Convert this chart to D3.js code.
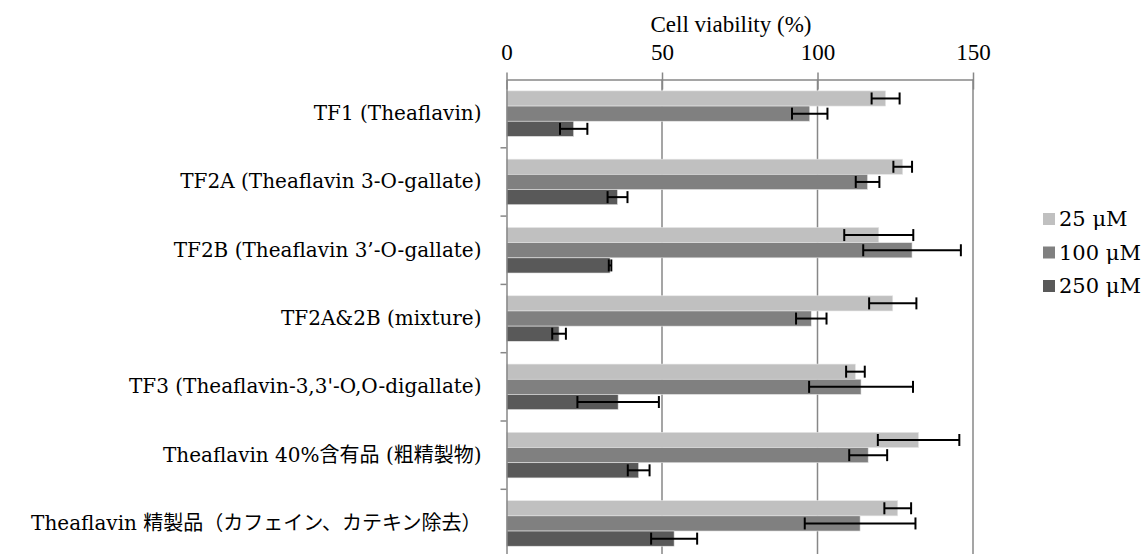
<!DOCTYPE html>
<html>
<head>
<meta charset="utf-8">
<script src="https://cdn.jsdelivr.net/npm/d3@7"></script>
<style>
  html, body { margin: 0; padding: 0; background: #fff; }
  svg { display: block; }
</style>
</head>
<body>
<svg id="chart" width="1146" height="554"></svg>
<script>
// ---- data ----
const categories = [
  "TF1 (Theaflavin)",
  "TF2A (Theaflavin 3-O-gallate)",
  "TF2B (Theaflavin 3’-O-gallate)",
  "TF2A&2B (mixture)",
  "TF3 (Theaflavin-3,3'-O,O-digallate)",
  "Theaflavin 40%含有品 (粗精製物)",
  "Theaflavin 精製品（カフェイン、カテキン除去）"
];
const seriesNames = ["25 μM", "100 μM", "250 μM"];
const values25  = [121.9, 127.4, 119.7, 124.2, 112.2, 132.5, 125.8];
const values100 = [97.5, 116.1, 130.4, 98.0, 114.0, 116.3, 113.7];
const values250 = [21.6, 35.7, 33.3, 16.9, 35.9, 42.5, 53.9];
const errors25  = [4.5, 3.0, 11.1, 7.6, 3.0, 13.1, 4.3];
const errors100 = [5.7, 3.8, 15.7, 4.9, 16.7, 6.1, 17.8];
const errors250 = [4.4, 3.2, 0.4, 2.2, 13.1, 3.5, 7.4];
const xTicks = [0, 50, 100, 150];
const colors = ["#c0c0c0", "#808080", "#595959"];
const axisTitle = "Cell viability (%)";

const seriesValues = [values25, values100, values250];
const seriesErrors = [errors25, errors100, errors250];

// ---- layout ----
const svg = d3.select("#chart");
const pLeft = 506.5, pRight = 973, pTop = 79.5, pBottom = 557.6;

const x = d3.scaleLinear().domain([0, 150]).range([pLeft, pRight]);
const y = d3.scaleBand().domain(categories).range([pTop, pBottom]).paddingInner(0).paddingOuter(0);
const ySub = d3.scaleBand().domain(d3.range(seriesNames.length)).range([0, y.bandwidth()]).paddingInner(0).paddingOuter(0.75);

// gridlines
svg.append("g").selectAll("line")
  .data(xTicks.filter(d => d > 0))
  .join("line")
  .attr("x1", d => x(d)).attr("x2", d => x(d))
  .attr("y1", pTop).attr("y2", 554)
  .attr("stroke", "#878787").attr("stroke-width", 1.5);

// bars
const rows = [];
categories.forEach((c, i) => {
  seriesValues.forEach((vals, s) => {
    rows.push({cat: c, s: s, v: vals[i], e: seriesErrors[s][i]});
  });
});

svg.append("g").selectAll("rect")
  .data(rows)
  .join("rect")
  .attr("x", x(0))
  .attr("y", d => y(d.cat) + ySub(d.s))
  .attr("width", d => x(d.v) - x(0))
  .attr("height", ySub.bandwidth())
  .attr("fill", d => colors[d.s])
  .attr("stroke", "#e6e6e6")
  .attr("stroke-width", 0.6);

// error bars
const eg = svg.append("g").attr("stroke", "#000").attr("stroke-width", 2);
rows.forEach(d => {
  const cy = y(d.cat) + ySub(d.s) + ySub.bandwidth() / 2;
  eg.append("line").attr("x1", x(d.v - d.e)).attr("x2", x(d.v + d.e)).attr("y1", cy).attr("y2", cy);
  eg.append("line").attr("x1", x(d.v - d.e)).attr("x2", x(d.v - d.e)).attr("y1", cy - 6).attr("y2", cy + 6);
  eg.append("line").attr("x1", x(d.v + d.e)).attr("x2", x(d.v + d.e)).attr("y1", cy - 6).attr("y2", cy + 6);
});

// top axis
const xAxis = d3.axisTop(x).tickValues(xTicks).tickSizeInner(6).tickSizeOuter(0).tickPadding(14);
const gx = svg.append("g").attr("transform", `translate(0,${pTop})`).call(xAxis);
gx.select(".domain").attr("stroke", "#878787").attr("stroke-width", 1.5);
gx.selectAll(".tick line").attr("stroke", "#878787").attr("stroke-width", 1.5).attr("y2", 10).attr("y1", -7);
gx.selectAll(".tick text")
  .attr("font-family", "'Liberation Serif', serif")
  .attr("font-size", 23)
  .attr("fill", "#000");

// left axis
const yAxis = d3.axisLeft(y).tickSize(0).tickPadding(25);
const gy = svg.append("g").attr("transform", `translate(${pLeft},0)`).call(yAxis);
gy.select(".domain").attr("stroke", "#878787").attr("stroke-width", 1.5);
gy.selectAll(".tick text")
  .attr("font-family", "'DejaVu Serif', 'Noto Sans CJK JP', serif")
  .attr("font-size", 20)
  .attr("fill", "#000");
// category boundary ticks
svg.append("g").selectAll("line")
  .data(categories.slice(1))
  .join("line")
  .attr("x1", pLeft - 6).attr("x2", pLeft)
  .attr("y1", d => y(d)).attr("y2", d => y(d))
  .attr("stroke", "#878787").attr("stroke-width", 1.5);

// axis title
svg.append("text")
  .attr("x", 731).attr("y", 32)
  .attr("text-anchor", "middle")
  .attr("font-family", "'Liberation Serif', serif")
  .attr("font-size", 23)
  .text(axisTitle);

// legend
const lg = svg.append("g");
seriesNames.forEach((n, i) => {
  const cy = 219 + i * 33.5;
  lg.append("rect").attr("x", 1043).attr("y", cy - 6).attr("width", 12).attr("height", 12).attr("fill", colors[i]);
  lg.append("text").attr("x", 1059).attr("y", cy).attr("dy", "0.35em")
    .attr("font-family", "'DejaVu Serif', serif").attr("font-size", 21).text(n);
});
</script>
</body>
</html>
